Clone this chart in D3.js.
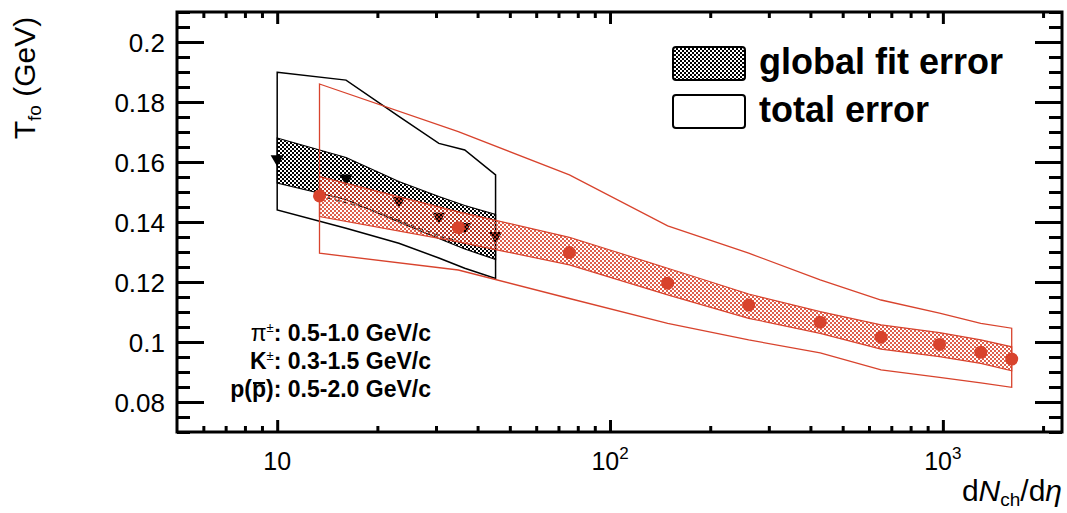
<!DOCTYPE html>
<html>
<head>
<meta charset="utf-8">
<script src="https://cdn.jsdelivr.net/npm/d3@7"></script>
<style>
  body { margin: 0; background: #fff; }
  text { font-family: "Liberation Sans", Arial, Helvetica, sans-serif; }
</style>
</head>
<body>
<div id="chart"></div>
<script>
// p-Pb points (black down triangles)
const pPbX = [10.0, 16.1, 23.2, 30.6, 36.6, 45.3];
const pPbT = [0.161, 0.1546, 0.1471, 0.1418, 0.1384, 0.1354];
const pPbFitHi = [0.168, 0.1615, 0.1535, 0.1485, 0.1455, 0.1425];
const pPbFitLo = [0.153, 0.1475, 0.14, 0.1345, 0.131, 0.1275];
const pPbTotHi = [0.1899, 0.1873, 0.1752, 0.1662, 0.164, 0.1557];
const pPbTotLo = [0.144, 0.1379, 0.1329, 0.128, 0.1246, 0.1212];

// Pb-Pb points (red circles)
const pbPbX = [13.4, 35, 75.5, 149, 261, 428, 652, 977, 1300, 1610];
const pbPbT = [0.1487, 0.1381, 0.1298, 0.1196, 0.1123, 0.1066, 0.1016, 0.0992, 0.0966, 0.0943];
const pbPbFitHi = [0.1551, 0.1434, 0.1349, 0.1246, 0.116, 0.1101, 0.1057, 0.1031, 0.1007, 0.0984];
const pbPbFitLo = [0.1418, 0.1334, 0.1257, 0.1157, 0.1079, 0.1029, 0.0976, 0.0951, 0.0929, 0.0904];
const pbPbTotHi = [0.186, 0.1701, 0.1557, 0.1387, 0.1296, 0.1207, 0.114, 0.1096, 0.1062, 0.1046];
const pbPbTotLo = [0.1296, 0.124, 0.1145, 0.1062, 0.1007, 0.0964, 0.0907, 0.0882, 0.0864, 0.0849];

// dashed line near the low-multiplicity points
const dashX = [13.4, 18.6, 25.1, 31.6, 35];
const dashT = [0.1487, 0.1446, 0.139, 0.1349, 0.1337];

const yTicks = [0.08, 0.1, 0.12, 0.14, 0.16, 0.18, 0.2];
const yTickLabels = ["0.08", "0.1", "0.12", "0.14", "0.16", "0.18", "0.2"];
const xMajor = [10, 100, 1000];
const xMajorExp = ["", "2", "3"];
const legendLabels = ["global fit error", "total error"];
const ptRanges = [
  { sym: "\u03c0", sup: "\u00b1", rest: ": 0.5-1.0 GeV/c" },
  { sym: "K", sup: "\u00b1", rest: ": 0.3-1.5 GeV/c" },
  { sym: "p(", bar: "p", rest: "): 0.5-2.0 GeV/c" },
];

const width = 1067, height = 513;
const plotLeft = 177, plotRight = 1062, plotTop = 12, plotBottom = 432;
const red = "#d8432d";

const svg = d3.select("#chart").append("svg")
  .attr("width", width).attr("height", height);

const defs = svg.append("defs");
function checker(id, color) {
  const p = defs.append("pattern").attr("id", id)
    .attr("patternUnits", "userSpaceOnUse").attr("width", 4).attr("height", 4);
  p.append("rect").attr("x", 0).attr("y", 0).attr("width", 2).attr("height", 2).attr("fill", color);
  p.append("rect").attr("x", 2).attr("y", 2).attr("width", 2).attr("height", 2).attr("fill", color);
}
checker("hatchBlack", "#000");
checker("hatchRed", red);

const x = d3.scaleLog().domain([5, 2280]).range([plotLeft, plotRight]);
const y = d3.scaleLinear().domain([0.07, 0.21]).range([plotBottom, plotTop]);

const xMinor = x.ticks().filter((v) => v > 5 && !xMajor.includes(v));
const yMinor = d3.range(0.07, 0.2101, 0.005).filter(
  (v) => !yTicks.some((t) => Math.abs(t - v) < 1e-6)
);

// axes (ticks pointing inward)
function axisGroup(axis, tx, ty) {
  const g = svg.append("g").attr("transform", `translate(${tx},${ty})`).call(axis);
  g.select(".domain").remove();
  g.selectAll("line").attr("stroke", "#000").attr("stroke-width", 3);
  g.selectAll("text").remove();
  return g;
}
axisGroup(d3.axisBottom(x).tickValues(xMajor).tickSize(-12), 0, plotBottom);
axisGroup(d3.axisBottom(x).tickValues(xMinor).tickSize(-6), 0, plotBottom);
axisGroup(d3.axisTop(x).tickValues(xMajor).tickSize(-12), 0, plotTop);
axisGroup(d3.axisTop(x).tickValues(xMinor).tickSize(-6), 0, plotTop);
axisGroup(d3.axisLeft(y).tickValues(yTicks).tickSize(-27), plotLeft, 0);
axisGroup(d3.axisLeft(y).tickValues(yMinor).tickSize(-13), plotLeft, 0);
axisGroup(d3.axisRight(y).tickValues(yTicks).tickSize(-27), plotRight, 0);
axisGroup(d3.axisRight(y).tickValues(yMinor).tickSize(-13), plotRight, 0);

// y tick labels
svg.append("g").selectAll("text").data(yTicks).join("text")
  .attr("x", plotLeft - 12).attr("y", (d) => y(d)).attr("dy", "0.37em")
  .attr("text-anchor", "end").attr("font-size", 26)
  .text((d, i) => yTickLabels[i]);

// x tick labels
const xl = svg.append("g").selectAll("text").data(xMajor).join("text")
  .attr("x", (d) => x(d)).attr("y", 470)
  .attr("text-anchor", "middle").attr("font-size", 25);
xl.append("tspan").text("10");
xl.filter((d, i) => xMajorExp[i] !== "").append("tspan")
  .attr("font-size", 17).attr("dy", -11)
  .text((d) => xMajorExp[xMajor.indexOf(d)]);

// axis titles
const yt = svg.append("text").attr("transform", "translate(35,78) rotate(-90)")
  .attr("text-anchor", "middle").attr("font-size", 30);
yt.append("tspan").text("T");
yt.append("tspan").attr("font-size", 19).attr("dy", 6).text("fo");
yt.append("tspan").attr("dy", -6).text(" (GeV)");

const xt = svg.append("text").attr("x", plotRight).attr("y", 501)
  .attr("text-anchor", "end").attr("font-size", 30);
xt.append("tspan").text("d");
xt.append("tspan").attr("font-style", "italic").text("N");
xt.append("tspan").attr("font-size", 19).attr("dy", 5).text("ch");
xt.append("tspan").attr("dy", -5).text("/d");
xt.append("tspan").attr("font-style", "italic").text("\u03b7");

const plot = svg.append("g");

function zipBand(xs, lo, hi) {
  return xs.map((v, i) => ({ x: v, lo: lo[i], hi: hi[i] }));
}
const band = d3.area().x((d) => x(d.x)).y0((d) => y(d.lo)).y1((d) => y(d.hi));
const box = (xs, lo, hi) => {
  const pts = xs.map((v, i) => [x(v), y(hi[i])])
    .concat(xs.map((v, i) => [x(v), y(lo[i])]).reverse());
  return d3.line()(pts) + "Z";
};

// p-Pb
plot.append("path").attr("d", box(pPbX, pPbTotLo, pPbTotHi))
  .attr("fill", "none").attr("stroke", "#000").attr("stroke-width", 1.5);
plot.append("path").attr("d", band(zipBand(pPbX, pPbFitLo, pPbFitHi)))
  .attr("fill", "url(#hatchBlack)").attr("stroke", "#000").attr("stroke-width", 1.2);
plot.append("g").selectAll("path").data(pPbX).join("path")
  .attr("transform", (d, i) => `translate(${x(d)},${y(pPbT[i])}) rotate(180)`)
  .attr("d", d3.symbol(d3.symbolTriangle, 75))
  .attr("fill", "#000");
plot.append("path")
  .attr("d", d3.line().x((d, i) => x(d)).y((d, i) => y(dashT[i]))(dashX))
  .attr("fill", "none").attr("stroke", "#222").attr("stroke-width", 1.3)
  .attr("stroke-dasharray", "5,3");

// Pb-Pb
plot.append("path").attr("d", box(pbPbX, pbPbTotLo, pbPbTotHi))
  .attr("fill", "none").attr("stroke", red).attr("stroke-width", 1.3);
plot.append("path").attr("d", band(zipBand(pbPbX, pbPbFitLo, pbPbFitHi)))
  .attr("fill", "url(#hatchRed)").attr("fill-opacity", 0.85)
  .attr("stroke", red).attr("stroke-width", 1.2);
plot.append("g").selectAll("circle").data(pbPbX).join("circle")
  .attr("cx", (d) => x(d)).attr("cy", (d, i) => y(pbPbT[i]))
  .attr("r", 6.5).attr("fill", red);

// frame
svg.append("rect").attr("x", plotLeft).attr("y", plotTop)
  .attr("width", plotRight - plotLeft).attr("height", plotBottom - plotTop)
  .attr("fill", "none").attr("stroke", "#000").attr("stroke-width", 3);

// legend
const legend = svg.append("g");
legend.selectAll("rect").data(legendLabels).join("rect")
  .attr("x", 673).attr("y", (d, i) => 47 + i * 48)
  .attr("width", 72).attr("height", 33).attr("rx", 3)
  .attr("fill", (d, i) => (i === 0 ? "url(#hatchBlack)" : "#fff"))
  .attr("stroke", "#000").attr("stroke-width", 2);
legend.selectAll("text").data(legendLabels).join("text")
  .attr("x", 759).attr("y", (d, i) => 74 + i * 48)
  .attr("font-size", 36).attr("font-weight", "bold")
  .text((d) => d);

// pT ranges
const note = svg.append("g").selectAll("text").data(ptRanges).join("text")
  .attr("x", 431).attr("y", (d, i) => 341 + i * 28)
  .attr("text-anchor", "end").attr("font-size", 23).attr("font-weight", "bold");
note.append("tspan")
  .attr("font-weight", (d) => (d.sym === "\u03c0" ? "normal" : "bold"))
  .text((d) => d.sym);
note.filter((d) => d.sup).append("tspan")
  .attr("font-size", 13).attr("dy", -9).attr("font-weight", "normal")
  .text((d) => d.sup);
note.filter((d) => d.bar).append("tspan").text((d) => d.bar);
note.append("tspan")
  .attr("dy", (d) => (d.sup ? 9 : 0))
  .text((d) => d.rest);

// bar over the anti-proton p
note.filter((d) => d.bar).each(function (d, i) {
  const idx = d.sym.length;
  const ext = this.getExtentOfChar(idx);
  const base = +d3.select(this).attr("y");
  d3.select(this.parentNode).append("line")
    .attr("x1", ext.x + 1).attr("x2", ext.x + ext.width - 1)
    .attr("y1", base - 14).attr("y2", base - 14)
    .attr("stroke", "#000").attr("stroke-width", 2);
});
</script>
</body>
</html>
